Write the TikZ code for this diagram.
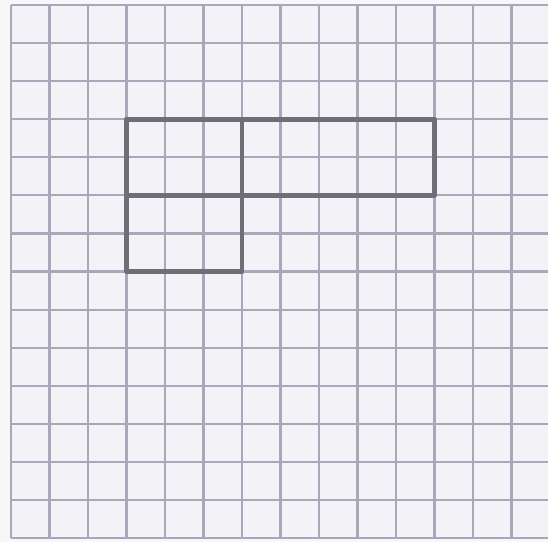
\documentclass[tikz,border=0pt]{standalone}
\usepackage{xcolor}
\usepackage{tikz}
\definecolor{margin}{RGB}{247,247,250}
\definecolor{paper}{RGB}{242,242,247}
\definecolor{gridline}{RGB}{168,168,186}
\definecolor{penline}{RGB}{110,110,118}

\begin{document}
\begin{tikzpicture}[x=1cm,y=0.989cm,
    gridrule/.style={gridline, line width=1.6pt},
    figrule/.style={penline, line width=3.6pt, line join=round}]
                \fill[margin](-0.286,-0.105) rectangle (13.948,14.131);
                \useasboundingbox (-0.286,-0.105) rectangle (13.948,14.131);
                \fill[paper](0,0) rectangle (13.948,14);
                % squared paper
                \foreach \i in {0,...,13}
                    \draw[gridrule](\i,0)--(\i,14);
                \foreach \j in {0,...,14}
                    \draw[gridrule](0,\j)--(13.948,\j);
                % the three rectangles
                \draw[figrule](3,9) rectangle (6,11);
                \draw[figrule](6,9) rectangle (11,11);
                \draw[figrule](3,7) rectangle (6,9);
            \end{tikzpicture}
\end{document}
